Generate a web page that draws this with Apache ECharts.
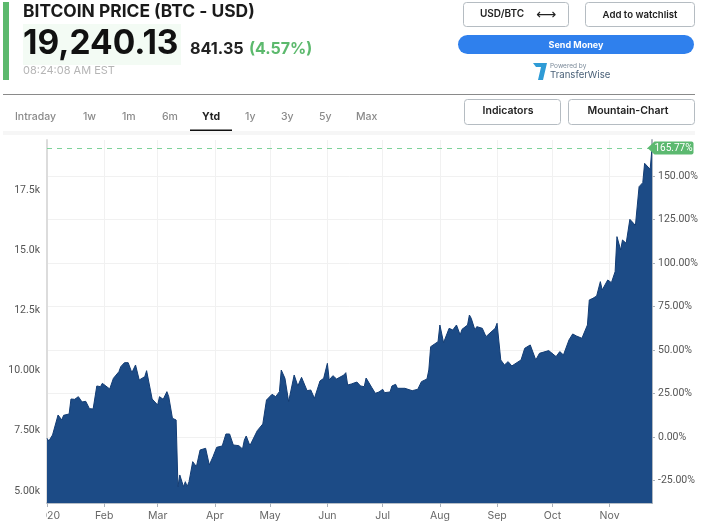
<!DOCTYPE html>
<html><head><meta charset="utf-8">
<style>html,body{margin:0;padding:0;background:#fff}#c{width:712px;height:526px}</style>
<script src="https://cdn.jsdelivr.net/npm/echarts@6/dist/echarts.min.js"></script></head>
<body><div id="c"></div>
<script>
const dates = [
'01-01','01-02','01-04','01-05','01-07','01-09','01-10','01-13','01-14','01-16','01-18','01-19','01-20','01-22','01-24','01-26','01-28','01-30','01-31',
'02-04','02-06','02-09','02-10','02-12','02-14','02-16','02-17','02-18','02-20','02-23','02-24','02-27','02-28',
'03-01','03-02','03-04','03-06','03-07','03-09','03-11','03-12','03-13','03-15','03-16','03-17','03-18','03-20','03-21','03-22','03-24','03-27','03-29','03-31',
'04-02','04-05','04-07','04-08','04-09','04-11','04-14','04-16','04-17','04-18','04-20','04-24','04-27','04-28','04-29',
'05-02','05-04','05-06','05-07','05-09','05-11','05-12','05-14','05-16','05-18','05-19','05-21','05-23','05-25','05-26','05-28','05-30','05-31',
'06-01','06-02','06-04','06-06','06-10','06-11','06-12','06-14','06-15','06-17','06-19','06-21','06-22','06-23','06-25','06-27','06-29',
'07-01','07-02','07-05','07-06','07-08','07-09','07-13','07-17','07-20','07-22','07-25','07-26','07-27','07-31',
'08-01','08-03','08-04','08-06','08-08','08-10','08-12','08-13','08-16','08-17','08-18','08-20','08-21','08-24','08-26','08-27','08-31',
'09-01','09-03','09-04','09-05','09-07','09-09','09-14','09-16','09-19','09-22','09-23','09-24','09-29',
'10-03','10-05','10-07','10-10','10-12','10-14','10-15','10-17','10-20','10-21','10-23','10-25','10-26','10-27','10-28','10-31',
'11-02','11-04','11-05','11-06','11-07','11-08','11-10','11-12','11-14','11-15','11-17','11-19','11-20','11-21','11-23','11-24'];
const prices = [
7188,7077,7327,7368,8157,7950,8143,8199,8821,8807,8918,8890,8697,8724,8420,8406,9361,9333,9472,
9237,9679,9956,10164,10330,10330,9915,9887,10233,9610,9749,9998,8821,8780,
8572,8918,8807,9126,8918,8019,7950,5181,5666,5181,5389,5181,5389,6219,6261,6012,6704,6773,6081,6427,
6815,6870,7368,7285,7368,6911,6884,6746,7119,7285,6884,7507,7784,7811,8780,
9015,8918,9126,10025,9680,8711,8711,9818,9361,9721,9790,9167,9195,8849,8877,9569,9680,9610,
10302,9610,9790,9652,9818,9915,9403,9444,9361,9527,9361,9334,9693,9610,9306,9057,9112,
9223,9085,9112,9361,9430,9265,9265,9167,9223,9541,9652,10025,10994,11202,
11894,11160,11202,11756,11686,11894,11479,11714,11894,12309,12172,11688,11826,11757,11411,11411,11757,
11965,10442,10512,10235,10373,10193,10442,10927,11065,10442,10373,10719,10830,
10581,10789,10650,11273,11522,11439,11480,11342,11896,12934,13003,13100,13060,13695,13349,13764,
13653,14110,15563,15563,15010,15425,15286,16283,16117,16020,17639,17805,18608,18636,18359,19240];
const monthStarts = ['01-01','02-01','03-01','04-01','05-01','06-01','07-01','08-01','09-01','10-01','11-01'];
const monthLabels = ['2020','Feb','Mar','Apr','May','Jun','Jul','Aug','Sep','Oct','Nov'];
const priceTicks = [5000,7500,10000,12500,15000,17500];
const priceTickLabels = ['5.00k','7.50k','10.00k','12.5k','15.0k','17.5k'];
const percentTicks = [-25,0,25,50,75,100,125,150];
const lastPercent = '165.77%';
const tabs = [['Intraday',15],['1w',83],['1m',122],['6m',162],['1y',245],['3y',281],['5y',319],['Max',356]];

const t = s => Date.parse('2020-' + s + 'T00:00:00Z');
const F = 'Inter, sans-serif';
const N = 'Roboto, sans-serif';
const txt = (text, x, y, font, fill, align) => ({type:'text', z:50, style:{text, x, y, font, fill, align:align||'left', verticalAlign:'middle'}});
const box = (x, y, w, h, r, fill, stroke) => ({type:'rect', z:40, shape:{x,y,width:w,height:h,r}, style:{fill:fill||'#fff', stroke:stroke||null, lineWidth:1}});
const monthValues = monthStarts.map(t);

const chart = echarts.init(document.getElementById('c'), null, {renderer:'canvas'});
chart.setOption({
  animation:false,
  backgroundColor:'#fff',
  grid:{left:47, top:140, width:605, height:363, containLabel:false},
  xAxis:{
    type:'value', min:t('01-01'), max:t('11-24'),
    axisLine:{show:true, onZero:false, lineStyle:{color:'#9fa9b5', width:1.5}},
    axisTick:{show:true, length:4, lineStyle:{color:'#aab2bb'}, customValues:monthValues},
    axisLabel:{color:'#666', fontFamily:F, fontSize:10.5, margin:7, hideOverlap:false, showMinLabel:true,
      customValues:monthValues,
      formatter:v=>monthLabels[monthValues.indexOf(+v)]||''},
    splitLine:{show:true, lineStyle:{color:'#f1f1f1'}}
  },
  yAxis:[{
    type:'value', position:'left', min:4502, max:19577,
    axisLine:{show:true, lineStyle:{color:'#dcdcdc', width:2}},
    axisTick:{show:false},
    axisLabel:{color:'#555', fontFamily:N, fontSize:10.5, margin:7,
      customValues:priceTicks,
      formatter:v=>priceTickLabels[priceTicks.indexOf(+v)]||''},
    splitLine:{show:false}
  },{
    type:'value', position:'right', min:-37.93, max:170.69,
    axisLine:{show:true, lineStyle:{color:'#aeb6bf', width:2}},
    axisTick:{show:true, length:3, lineStyle:{color:'#aab2bb'}, customValues:percentTicks},
    axisLabel:{color:'#555', fontFamily:N, fontSize:10.5, margin:6,
      customValues:percentTicks,
      formatter:v=>Number(v).toFixed(2)+'%'},
    splitLine:{show:true, lineStyle:{color:'#f1f1f1'}}
  }],
  series:[{
    type:'line', yAxisIndex:0, showSymbol:false, smooth:false,
    data:dates.map((d,i)=>[t(d),prices[i]]),
    lineStyle:{color:'#123c74', width:1},
    areaStyle:{color:'#1c4b86', opacity:1},
    itemStyle:{color:'#123c74'},
    markLine:{silent:true, symbol:'none', label:{show:false},
      lineStyle:{color:'#7ed39a', type:[5,5], width:1},
      data:[{yAxis:prices[prices.length-1]}]},
    markPoint:{silent:true, animation:false,
      symbol:'path://M0 6.5L7 0H44Q46 0 46 2V11Q46 13 44 13H7Z', symbolKeepAspect:false,
      symbolSize:[46,13], symbolOffset:[18.5,0],
      itemStyle:{color:'#5cb970'},
      label:{show:true, color:'#fff', fontFamily:N, fontSize:10, offset:[3,0], formatter:lastPercent},
      data:[{coord:[t(dates[dates.length-1]),prices[prices.length-1]]}]}
  }],
  graphic:{elements:[
    box(0,505,46,21,0,'#fff'),
    box(3,2,6,78,0,'#5cb96d'),
    txt('BITCOIN PRICE (BTC - USD)',23,12,'700 17.4px '+F,'#1a1a1a'),
    box(23,24,158,41,0,'#f3fbf4'),
    txt('19,240.13',23,44,'700 33.5px '+F,'#111'),
    txt('841.35',190,49,'700 16.2px '+F,'#222'),
    txt('(4.57%)',249,49,'700 16px '+F,'#5cb96d'),
    txt('08:24:08 AM EST',23,71,'400 11px '+F,'#b5b5b5'),
    {type:'rect',z:40,shape:{x:3,y:94,width:692,height:1},style:{fill:'#8a8a8a'}},
    {type:'rect',z:40,shape:{x:3,y:131,width:692,height:4},style:{fill:'#f6f6f6'}},
    ...tabs.map(([s,x])=>txt(s,x,117,'500 10.5px '+F,'#8a8a8a')),
    txt('Ytd',202,117,'700 10.5px '+F,'#222'),
    {type:'rect',z:41,shape:{x:190,y:129.5,width:42,height:1.5},style:{fill:'#111'}},
    box(463.5,2.5,105,24,3,'#fff','#b5bcc2'),
    txt('USD/BTC',480,14,'600 10px '+F,'#222'),
    txt('⟷',546,15,'400 14px DejaVu Sans','#222','center'),
    box(585.5,2.5,109,24,3,'#fff','#b5bcc2'),
    txt('Add to watchlist',640,15,'600 9.6px '+F,'#222','center'),
    box(458,35,236,19,9.5,'#2f80ed'),
    txt('Send Money',576,45,'700 9px '+F,'#fff','center'),
    {type:'polygon',z:45,shape:{points:[[533,63],[547,63],[543,80],[538,80],[541,67],[536,67]]},style:{fill:'#2e9bd6'}},
    txt('Powered by',550,66,'400 6.5px '+F,'#7b8a99'),
    txt('TransferWise',550,75,'400 9.6px '+F,'#4a6178'),
    box(464.5,99.5,96,25,3,'#fff','#b5bcc2'),
    txt('Indicators',508,111,'600 10.5px '+F,'#222','center'),
    box(568.5,99.5,126,25,3,'#fff','#b5bcc2'),
    txt('Mountain-Chart',628,111,'600 10.5px '+F,'#222','center')
  ]}
});
</script></body></html>
